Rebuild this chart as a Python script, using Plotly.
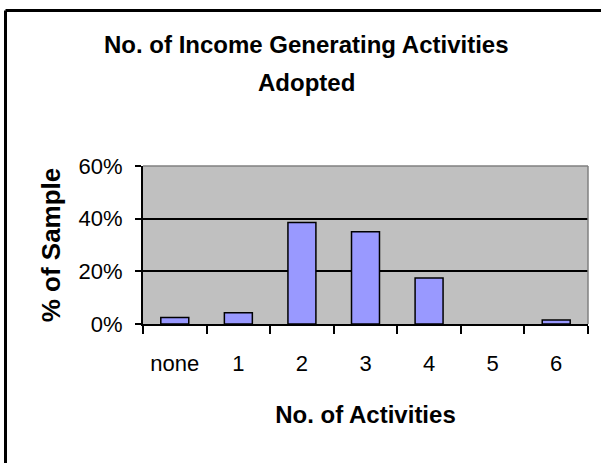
import plotly.graph_objects as go

# Data
categories = ["none", "1", "2", "3", "4", "5", "6"]
share_of_sample = [0.025, 0.043, 0.385, 0.350, 0.175, 0.0, 0.015]
title_lines = ["No. of Income Generating Activities", "Adopted"]

FONT = "Liberation Sans, Arial, sans-serif"

# Plot area in pixels (601x463 canvas)
L, R, T, B = 143, 13, 166, 139
PW, PH = 601 - L - R, 463 - T - B


def px_x(px):
    return (px - L) / PW


def px_y(py):
    return (463 - B - py) / PH


fig = go.Figure()

# Empty categories get no bar at all (Excel draws nothing for 0)
fig.add_trace(
    go.Bar(
        x=categories,
        y=[v if v > 0 else None for v in share_of_sample],
        marker_color="#9999FF",
        marker_line_color="black",
        marker_line_width=1.5,
        hovertemplate="%{x}: %{y:.1%}<extra></extra>",
    )
)

# Two-line title with Excel-like line spacing
for text, py in zip(title_lines, [44, 82]):
    fig.add_annotation(
        text=f"<b>{text}</b>",
        x=px_x(306), y=px_y(py),
        xref="paper", yref="paper",
        xanchor="center", yanchor="middle",
        showarrow=False,
        font={"family": FONT, "size": 24, "color": "black"},
    )

# Grey top/right plot border
fig.add_shape(type="line", xref="paper", yref="paper", x0=0, x1=1, y0=1, y1=1,
              line={"color": "#808080", "width": 1.5})
fig.add_shape(type="line", xref="paper", yref="paper", x0=1, x1=1, y0=0, y1=1,
              line={"color": "#808080", "width": 1.5})

# Chart frame (only left and top edges visible in the crop)
frame_x, frame_y = px_x(5.5), px_y(10.5)
fig.add_shape(type="line", xref="paper", yref="paper",
              x0=frame_x, x1=px_x(620), y0=frame_y, y1=frame_y,
              line={"color": "black", "width": 3})
fig.add_shape(type="line", xref="paper", yref="paper",
              x0=frame_x, x1=frame_x, y0=frame_y, y1=px_y(480),
              line={"color": "black", "width": 3})

fig.update_layout(
    width=601,
    height=463,
    margin={"l": L, "r": R, "t": T, "b": B, "autoexpand": False},
    paper_bgcolor="white",
    plot_bgcolor="#C0C0C0",
    showlegend=False,
    bargap=0.56,
    font={"family": FONT, "color": "black"},
    xaxis={
        "type": "category",
        "title": {"text": "<b>No. of Activities</b>", "font": {"size": 24}, "standoff": 31},
        "tickfont": {"size": 22},
        "showline": True,
        "linecolor": "black",
        "linewidth": 2,
        "ticks": "outside",
        "tickson": "boundaries",
        "ticklen": 8,
        "tickwidth": 1.5,
        "tickcolor": "black",
        "ticklabelstandoff": 19,
        "showgrid": False,
        "automargin": False,
    },
    yaxis={
        "title": {"text": "<b>% of Sample</b>", "font": {"size": 26}, "standoff": 10},
        "range": [0, 0.6],
        "dtick": 0.2,
        "tickformat": ".0%",
        "tickfont": {"size": 22},
        "showline": True,
        "linecolor": "black",
        "linewidth": 2,
        "ticks": "outside",
        "ticklen": 6,
        "tickwidth": 1.5,
        "tickcolor": "black",
        "ticklabelstandoff": 8,
        "showgrid": True,
        "gridcolor": "black",
        "gridwidth": 1.5,
        "zeroline": False,
        "automargin": False,
    },
)

# Drop the browser's default body margin so the figure sits at (0, 0)
fig.write_html(
    "out.html",
    config={"displayModeBar": False},
    post_script="document.body.style.margin = '0';",
)
